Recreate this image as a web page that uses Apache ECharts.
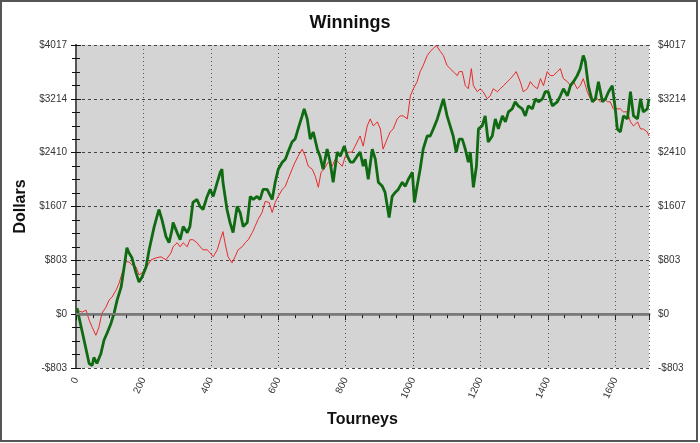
<!DOCTYPE html>
<html>
<head>
<meta charset="utf-8">
<script src="https://cdn.jsdelivr.net/npm/echarts@6/dist/echarts.min.js"></script>
<style>
html,body{margin:0;padding:0;background:#fff;}
#c{width:700px;height:443px;}
</style>
</head>
<body>
<div id="c"></div>
<script>
const chartTitle = 'Winnings';
const xName = 'Tourneys';
const yName = 'Dollars';
const xTicks = [0, 200, 400, 600, 800, 1000, 1200, 1400, 1600];
const yTickValues = [-803.4, 0, 803.4, 1606.8, 2410.2, 3213.6, 4017];

const greenT = [3,24,39,48,53,62,74,83,92,104,113,122,134,143,151,157,166,178,187,196,208,217,232,246,255,267,276,285,288,300,309,318,330,338,347,359,368,377,389,398,407,419,428,433,436,448,457,466,478,487,496,508,517,526,537,546,555,567,582,591,600,612,621,629,641,650,659,671,677,686,695,704,716,724,733,745,754,763,775,784,796,805,814,822,834,843,852,858,867,879,888,897,909,917,929,938,947,956,968,977,986,998,1004,1012,1021,1030,1042,1051,1060,1072,1081,1090,1101,1110,1119,1128,1137,1146,1155,1164,1170,1179,1188,1194,1205,1214,1223,1235,1244,1253,1265,1274,1283,1294,1303,1312,1324,1333,1342,1354,1363,1372,1384,1392,1401,1413,1428,1437,1446,1458,1467,1476,1487,1496,1505,1511,1520,1532,1541,1550,1562,1571,1580,1591,1600,1606,1615,1624,1636,1645,1654,1666,1675,1683,1695,1700];
const greenV = [90,-390,-736,-766,-646,-736,-586,-390,-285,-135,15,210,406,706,991,916,841,616,481,556,706,961,1307,1562,1412,1157,1066,1262,1367,1217,1111,1307,1217,1307,1667,1712,1607,1562,1757,1862,1757,1968,2118,2163,1968,1562,1367,1217,1607,1517,1307,1367,1757,1712,1757,1712,1862,1862,1712,1968,2163,2268,2313,2418,2568,2613,2764,2959,3064,2914,2613,2719,2463,2358,2163,2463,2268,1968,2418,2358,2508,2358,2268,2268,2358,2418,2208,2313,2013,2463,2313,1968,1908,1817,1442,1757,1817,1862,1968,1908,2013,2118,1667,1908,2163,2463,2659,2659,2764,2914,3064,3214,2959,2809,2659,2418,2613,2613,2463,2268,2418,1893,2208,2764,2809,2959,2568,2659,2914,2764,2959,2869,3019,3064,3169,3109,3064,2959,3109,3064,3214,3169,3214,3319,3319,3109,3169,3259,3364,3259,3410,3470,3560,3665,3860,3770,3410,3169,3214,3470,3169,3214,3319,3410,3064,2764,2719,2959,2914,3319,2959,2914,3214,3019,3064,3214];

const redT = [3,18,30,39,48,59,68,77,89,98,107,119,128,137,148,157,166,178,187,196,208,223,238,252,267,282,288,300,309,318,330,338,347,359,368,377,389,398,407,419,428,436,442,451,463,472,481,493,502,511,523,531,540,552,561,573,582,591,600,612,621,629,641,650,659,671,680,689,701,710,719,727,736,748,760,769,778,790,799,808,819,828,843,852,864,873,882,894,903,911,923,932,941,953,962,971,983,992,1001,1012,1021,1030,1042,1051,1060,1069,1081,1090,1101,1110,1119,1131,1137,1146,1155,1164,1173,1179,1191,1199,1208,1220,1229,1238,1250,1259,1268,1280,1289,1297,1306,1318,1327,1339,1348,1357,1369,1378,1387,1398,1407,1416,1428,1437,1446,1458,1467,1476,1487,1496,1505,1517,1526,1535,1547,1556,1565,1577,1585,1594,1606,1615,1624,1636,1645,1654,1666,1675,1683,1695,1700];
const redV = [60,30,60,-90,-195,-315,-195,15,105,210,255,360,466,616,781,781,736,706,586,616,691,811,841,856,811,916,1006,1066,1006,1066,1006,1111,1111,1066,1006,961,961,916,856,961,1111,1232,1066,856,766,856,961,1006,1066,1111,1217,1307,1412,1517,1682,1667,1517,1667,1757,1862,1908,2013,2163,2268,2358,2463,2358,2208,2163,2058,1893,2118,2163,2268,2208,2313,2268,2208,2358,2418,2418,2508,2659,2508,2809,2914,2809,2869,2764,2463,2613,2719,2764,2914,2959,2959,2914,3259,3364,3470,3620,3710,3860,3920,3965,4010,3920,3860,3710,3665,3620,3560,3620,3620,3410,3364,3665,3410,3319,3364,3319,3214,3259,3364,3319,3364,3410,3470,3515,3560,3620,3470,3319,3364,3470,3410,3364,3515,3410,3620,3560,3560,3620,3665,3515,3470,3410,3470,3364,3410,3515,3319,3214,3169,3214,3169,3214,3169,3169,3064,3064,3064,3019,3019,2869,2809,2869,2764,2764,2719,2659];

const zip = (a, b) => a.map((t, i) => [t, b[i]]);
const fmtDollar = v => { const r = Math.round(v); return (r < 0 ? '-$' : '$') + Math.abs(r); };

const chart = echarts.init(document.getElementById('c'), null, {renderer: 'canvas'});
const FONT = '"Liberation Sans", Arial, sans-serif';
const yMin = yTickValues[0], yMax = yTickValues[yTickValues.length - 1];
const yInt = yTickValues[1] - yTickValues[0];

chart.setOption({
  animation: false,
  backgroundColor: '#ffffff',
  title: {
    text: chartTitle, left: 'center', top: 9,
    textStyle: {fontFamily: FONT, fontSize: 18, fontWeight: 'bold', color: '#111'}
  },
  grid: {left: 76, right: 51, top: 45, bottom: 75, show: true, backgroundColor: '#d4d4d4', borderWidth: 0},
  xAxis: [{
    type: 'value', min: xTicks[0], max: 1700, interval: 200,
    name: xName, nameLocation: 'middle', nameGap: 44,
    nameTextStyle: {fontFamily: FONT, fontSize: 16, fontWeight: 'bold', color: '#111'},
    axisLine: {show: true, lineStyle: {color: '#8a8a8a', width: 3}},
    axisTick: {show: true, length: 6, lineStyle: {color: '#111', width: 1}},
    minorTick: {show: true, splitNumber: 4, length: 4, lineStyle: {color: '#111', width: 1}},
    axisLabel: {rotate: 65, margin: 10, fontFamily: FONT, fontSize: 10, color: '#333', showMaxLabel: false,
      formatter: v => String(Math.round(v))},
    splitLine: {show: true, lineStyle: {color: '#555', type: [1, 3], width: 1}}
  }, {
    type: 'value', min: xTicks[0], max: 1700, interval: 200, position: 'top',
    axisLine: {show: true, lineStyle: {color: '#666', width: 2}},
    axisTick: {show: true, inside: true, length: 5, lineStyle: {color: '#222'}},
    minorTick: {show: true, splitNumber: 4, length: 3, lineStyle: {color: '#222'}},
    axisLabel: {show: false}, splitLine: {show: false}
  }],
  yAxis: [{
    type: 'value', min: yMin, max: yMax, interval: yInt, position: 'left',
    name: yName, nameLocation: 'middle', nameGap: 44,
    nameTextStyle: {fontFamily: FONT, fontSize: 16, fontWeight: 'bold', color: '#111'},
    axisLine: {show: true, lineStyle: {color: '#555', width: 2}},
    axisTick: {show: true, length: 5, lineStyle: {color: '#111'}},
    minorTick: {show: true, splitNumber: 4, length: 4, lineStyle: {color: '#111'}},
    axisLabel: {formatter: fmtDollar, margin: 9, fontFamily: FONT, fontSize: 10, color: '#333'},
    splitLine: {show: true, lineStyle: {color: '#444', type: [3, 3], width: 1}}
  }, {
    type: 'value', min: yMin, max: yMax, interval: yInt, position: 'right',
    axisLine: {show: true, lineStyle: {color: '#555', width: 2}},
    axisTick: {show: true, length: 5, lineStyle: {color: '#111'}},
    minorTick: {show: true, splitNumber: 4, length: 4, lineStyle: {color: '#111'}},
    axisLabel: {formatter: fmtDollar, margin: 9, fontFamily: FONT, fontSize: 10, color: '#333'},
    splitLine: {show: false}
  }],
  series: [{
    name: 'Red', type: 'line', showSymbol: false, symbol: 'none',
    data: zip(redT, redV),
    lineStyle: {color: '#e82a2a', width: 1},
    markLine: {
      silent: true, symbol: 'none', label: {show: false},
      lineStyle: {color: '#7a7a7a', type: 'solid', width: 2},
      data: [{yAxis: 0}]
    },
    z: 3
  }, {
    name: 'Green', type: 'line', showSymbol: false, symbol: 'none',
    data: zip(greenT, greenV),
    lineStyle: {color: '#0f6a12', width: 2.8},
    z: 4
  }],
  graphic: [{
    type: 'rect', silent: true, z: 100,
    shape: {x: 1, y: 1, width: 696, height: 440},
    style: {fill: 'none', stroke: '#555', lineWidth: 2}
  }]
});
</script>
</body>
</html>
